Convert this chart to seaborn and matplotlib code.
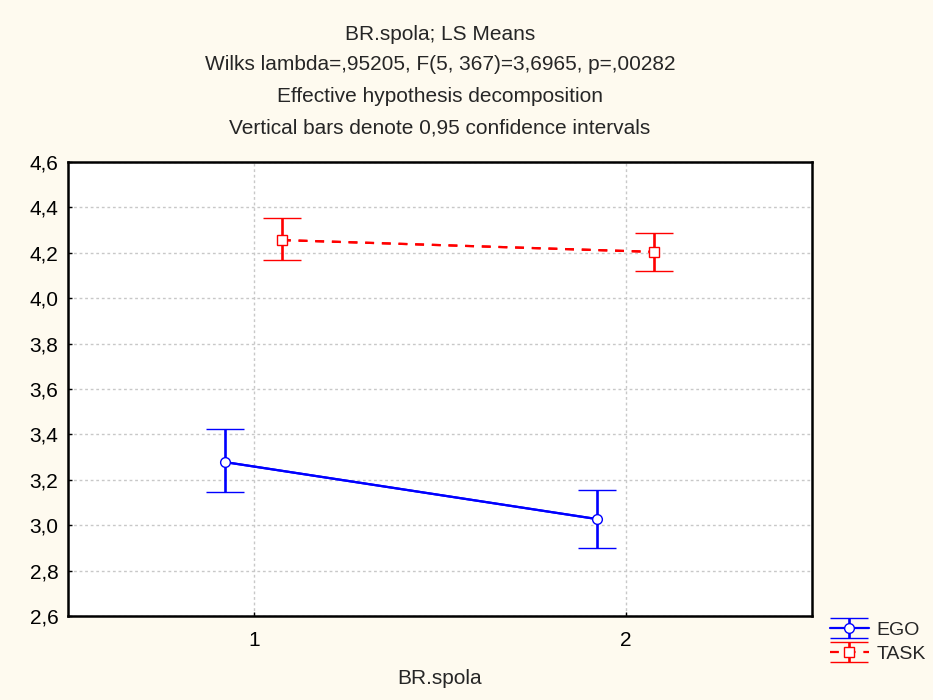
import numpy as np
import pandas as pd
import matplotlib
matplotlib.use("Agg")
import matplotlib.pyplot as plt
import seaborn as sns

# ---- data ----
categories = [1, 2]
series_names = ["EGO", "TASK"]
ego_mean = [3.278, 3.027]
ego_low = [3.146, 2.900]
ego_high = [3.424, 3.155]
task_mean = [4.256, 4.204]
task_low = [4.168, 4.120]
task_high = [4.353, 4.287]
y_ticks = [2.6, 2.8, 3.0, 3.2, 3.4, 3.6, 3.8, 4.0, 4.2, 4.4, 4.6]
title_lines = [
    "BR.spola; LS Means",
    "Wilks lambda=,95205, F(5, 367)=3,6965, p=,00282",
    "Effective hypothesis decomposition",
    "Vertical bars denote 0,95 confidence intervals",
]
x_label = "BR.spola"

sns.set_style("white")
plt.rcParams["font.family"] = ["Liberation Sans", "DejaVu Sans"]

FS = 15
bg = "#fefaef"
fig = plt.figure(figsize=(9.33, 7.0), dpi=100, facecolor=bg)
ax = fig.add_axes([68 / 933, 1 - 616 / 700, (812 - 68) / 933, (616 - 162) / 700])
ax.set_facecolor("white")

styles = {
    "EGO": dict(color="#0000ff", marker="o", ls="-", offset=-0.078),
    "TASK": dict(color="#ff0000", marker="s", ls=(0, (4, 3.5)), offset=0.075),
}
data = {
    "EGO": (ego_mean, ego_low, ego_high),
    "TASK": (task_mean, task_low, task_high),
}

rows = []
for name in series_names:
    m, lo, hi = data[name]
    for c, mv in zip(categories, m):
        rows.append({"series": name, "x": c + styles[name]["offset"], "mean": mv})
df = pd.DataFrame(rows)

handles = []
for name in series_names:
    st = styles[name]
    sub = df[df["series"] == name]
    m, lo, hi = data[name]
    m = np.array(m); lo = np.array(lo); hi = np.array(hi)
    sns.lineplot(data=sub, x="x", y="mean", ax=ax, color=st["color"],
                 linestyle=st["ls"], linewidth=1.6, legend=False, zorder=3)
    h = ax.errorbar(sub["x"], m, yerr=[m - lo, hi - m], fmt=st["marker"],
                    color=st["color"], ecolor=st["color"], elinewidth=1.9,
                    capsize=13.5, capthick=1.9, markersize=7,
                    markerfacecolor="white", markeredgecolor=st["color"],
                    markeredgewidth=1, linestyle=st["ls"], lw=1.6, zorder=4)
    handles.append(h)

ax.set_xlim(0.5, 2.5)
ax.set_ylim(2.6, 4.6)
ax.set_xticks(categories)
ax.set_xticklabels([str(c) for c in categories])
ax.set_yticks(y_ticks)
ax.set_yticklabels([f"{v:.1f}".replace(".", ",") for v in y_ticks])
ax.tick_params(axis="both", direction="in", length=3, width=1, labelsize=FS,
               colors="black", left=True, bottom=True)
ax.tick_params(axis="y", pad=7)
ax.tick_params(axis="x", pad=11)
ax.grid(True, color="#c8c8c8", linestyle=(0, (2, 2)), linewidth=1)
for s in ax.spines.values():
    s.set_color("black")
    s.set_linewidth(1.8)
ax.set_xlabel("")
ax.set_ylabel("")

fig.text(440 / 933, 1 - 678 / 700, x_label, ha="center", va="center", fontsize=FS)
for txt, y in zip(title_lines, [34, 65, 97, 128]):
    fig.text(440 / 933, 1 - y / 700, txt, ha="center", va="center", fontsize=FS)

leg = fig.legend(handles, series_names, loc="upper left",
                 bbox_to_anchor=(830 / 933, 1 - 621 / 700), frameon=False,
                 fontsize=14, handlelength=2.0, handletextpad=0.4,
                 labelspacing=0.35, borderpad=0, borderaxespad=0)

fig.savefig("out.png", dpi=100, facecolor=bg)
